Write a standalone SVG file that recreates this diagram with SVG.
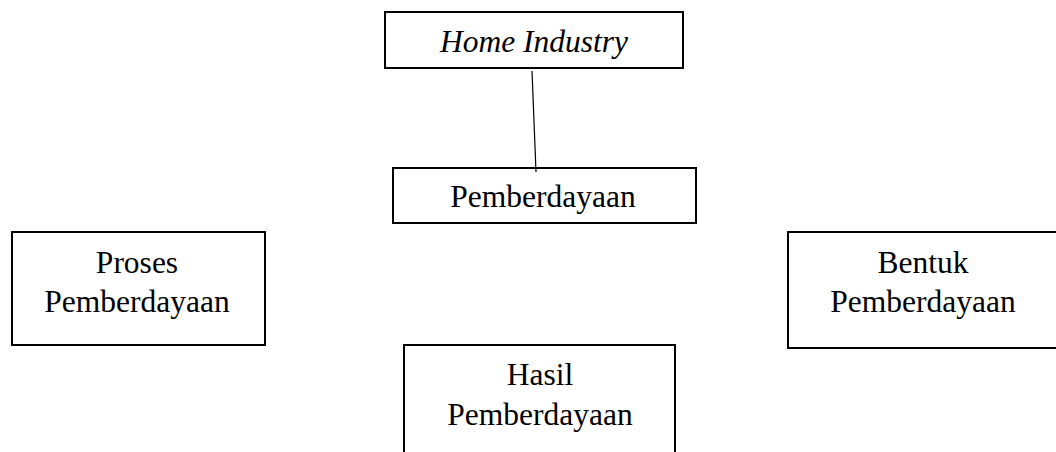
<svg xmlns="http://www.w3.org/2000/svg" width="1056" height="452" viewBox="0 0 1056 452">
<style>
.box{fill:#fff;stroke:#000;stroke-width:2}
.t{font-family:"Liberation Serif","Times New Roman",serif;font-size:31.5px;fill:#000;text-anchor:middle}
.i{font-style:italic}
.c{stroke:#000;stroke-width:1.2;fill:none}
</style>
<rect width="1056" height="452" fill="#fff"/>
<g id="home-industry">
<rect class="box" x="385" y="12" width="298" height="56"/>
<text class="t i" x="534" y="52">Home Industry</text>
</g>
<g id="pemberdayaan">
<rect class="box" x="393" y="168" width="303" height="55"/>
<text class="t" x="543" y="207">Pemberdayaan</text>
</g>
<g id="proses">
<rect class="box" x="12" y="232" width="253" height="113"/>
<text class="t" x="137" y="273">Proses</text>
<text class="t" x="137" y="312">Pemberdayaan</text>
</g>
<g id="bentuk">
<rect class="box" x="788" y="232" width="280" height="116"/>
<text class="t" x="923" y="273">Bentuk</text>
<text class="t" x="923" y="312">Pemberdayaan</text>
</g>
<g id="hasil">
<rect class="box" x="404" y="345" width="271" height="120"/>
<text class="t" x="540" y="385">Hasil</text>
<text class="t" x="540" y="425">Pemberdayaan</text>
</g>
<g id="connectors">
<line class="c" x1="532" y1="71" x2="536" y2="172"/>
</g>
</svg>
